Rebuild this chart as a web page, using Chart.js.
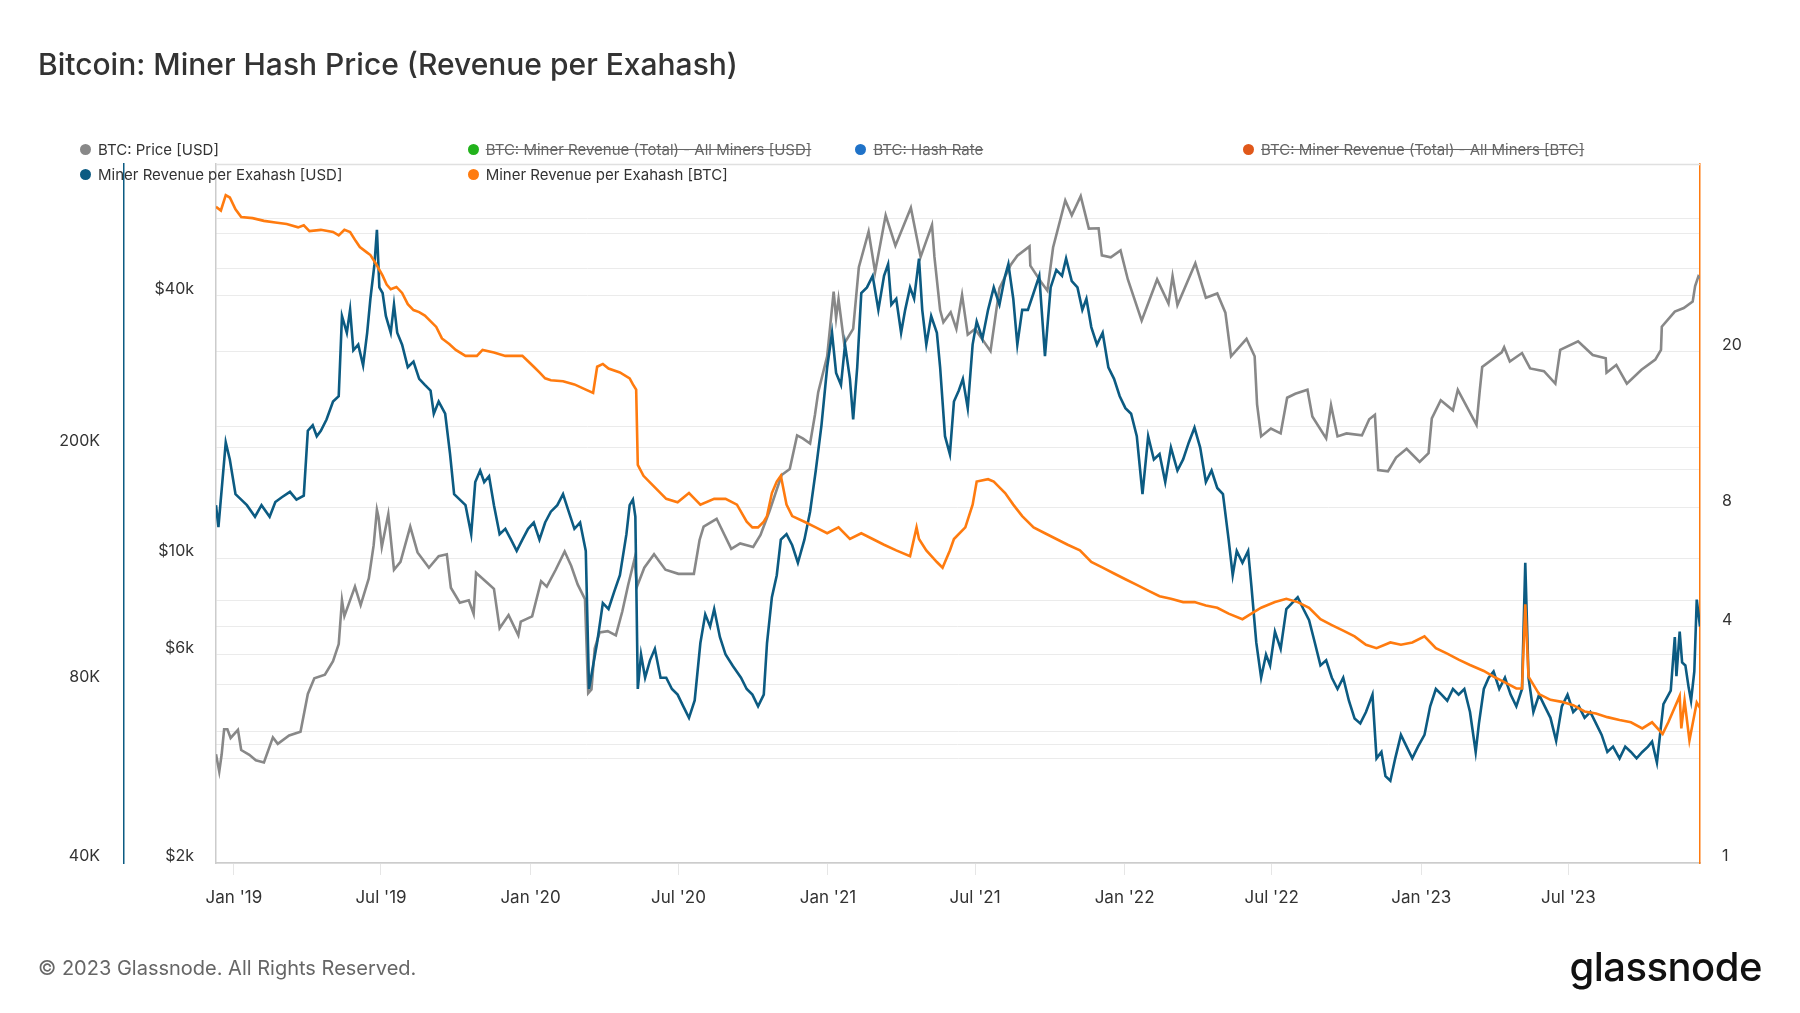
<!DOCTYPE html>
<html>
<head>
<meta charset="utf-8">
<script src="https://cdn.jsdelivr.net/npm/chart.js@4.4.1/dist/chart.umd.min.js"></script>
<style>
  body { margin: 0; background: #fff; font-family: Inter, "Noto Sans", sans-serif; }
  #wrap { position: relative; width: 1800px; height: 1013px; overflow: hidden; }
  #chart { position: absolute; left: 0; top: 0; }
  .title { position: absolute; left: 38px; top: 46px; line-height: 36px; font-size: 30px; font-weight: 500; color: #333; }
  .legend { position: absolute; left: 80px; top: 139px; display: grid; grid-template-columns: repeat(4, 387.7px); row-gap: 5px; font-size: 15px; color: #333; }
  .legend .item { display: flex; align-items: center; height: 20px; white-space: nowrap; }
  .legend .dot { width: 11px; height: 11px; border-radius: 50%; margin-right: 7px; flex: none; }
  .legend .off span { text-decoration: line-through; color: #666; }
  .footer { position: absolute; left: 38px; top: 954px; line-height: 28px; font-size: 20px; color: #666; }
  .logo { position: absolute; right: 38px; top: 942px; line-height: 50px; font-size: 40px; font-weight: 500; color: #111; letter-spacing: -0.5px; }
</style>
</head>
<body>
<div id="wrap">
  <canvas id="chart" width="1800" height="1013"></canvas>
  <div class="title">Bitcoin: Miner Hash Price (Revenue per Exahash)</div>
  <div class="legend" id="legend"></div>
  <div class="footer">© 2023 Glassnode. All Rights Reserved.</div>
  <div class="logo">glassnode</div>
</div>
<script>
// BTC: Price [USD]
const priceDates = ['2018-12-10','2018-12-14','2018-12-17','2018-12-20','2018-12-24','2018-12-28','2019-01-06','2019-01-10','2019-01-20','2019-01-28','2019-02-07','2019-02-18','2019-02-24','2019-03-10','2019-03-24','2019-04-02','2019-04-10','2019-04-23','2019-05-03','2019-05-10','2019-05-14','2019-05-17','2019-05-30','2019-06-06','2019-06-16','2019-06-22','2019-06-26','2019-06-28','2019-07-02','2019-07-10','2019-07-17','2019-07-25','2019-08-06','2019-08-15','2019-08-29','2019-09-10','2019-09-20','2019-09-25','2019-10-06','2019-10-17','2019-10-23','2019-10-26','2019-11-08','2019-11-17','2019-11-24','2019-12-05','2019-12-17','2019-12-20','2020-01-03','2020-01-14','2020-01-21','2020-02-01','2020-02-12','2020-02-20','2020-02-28','2020-03-08','2020-03-12','2020-03-16','2020-03-20','2020-03-26','2020-04-05','2020-04-15','2020-04-23','2020-04-30','2020-05-08','2020-05-11','2020-05-20','2020-06-01','2020-06-15','2020-07-01','2020-07-20','2020-07-27','2020-08-01','2020-08-17','2020-09-04','2020-09-15','2020-10-01','2020-10-10','2020-10-21','2020-11-05','2020-11-15','2020-11-24','2020-12-01','2020-12-10','2020-12-16','2020-12-20','2020-12-31','2021-01-08','2021-01-11','2021-01-14','2021-01-21','2021-02-01','2021-02-08','2021-02-20','2021-02-28','2021-03-13','2021-03-25','2021-04-13','2021-04-25','2021-05-09','2021-05-12','2021-05-19','2021-05-23','2021-06-01','2021-06-08','2021-06-15','2021-06-22','2021-07-01','2021-07-20','2021-07-31','2021-08-14','2021-08-22','2021-09-06','2021-09-07','2021-09-20','2021-09-28','2021-10-05','2021-10-20','2021-10-28','2021-11-08','2021-11-18','2021-11-30','2021-12-04','2021-12-15','2021-12-27','2022-01-05','2022-01-22','2022-02-10','2022-02-24','2022-03-01','2022-03-07','2022-03-29','2022-04-11','2022-04-25','2022-05-05','2022-05-12','2022-05-31','2022-06-10','2022-06-13','2022-06-18','2022-06-30','2022-07-12','2022-07-20','2022-07-30','2022-08-14','2022-08-20','2022-09-06','2022-09-12','2022-09-20','2022-10-01','2022-10-20','2022-10-29','2022-11-05','2022-11-09','2022-11-21','2022-12-01','2022-12-14','2022-12-30','2023-01-10','2023-01-14','2023-01-25','2023-02-09','2023-02-15','2023-03-10','2023-03-14','2023-03-17','2023-04-10','2023-04-13','2023-04-20','2023-05-05','2023-05-15','2023-06-01','2023-06-15','2023-06-21','2023-07-13','2023-07-31','2023-08-16','2023-08-17','2023-08-29','2023-09-11','2023-09-29','2023-10-16','2023-10-23','2023-10-24','2023-11-09','2023-11-20','2023-12-01','2023-12-04','2023-12-08','2023-12-10'];
const priceValues = [3550,3240,3550,4050,4050,3870,4040,3630,3540,3440,3400,3880,3750,3920,4000,4880,5300,5400,5800,6350,8000,7360,8600,7800,8980,10700,12900,12400,10600,12600,9400,9800,11800,10300,9500,10100,10200,8550,7900,8000,7450,9250,8800,8500,6900,7400,6650,7150,7350,8850,8600,9400,10350,9600,8700,8050,4900,5000,6200,6750,6800,6650,7550,8650,9950,8600,9500,10200,9400,9200,9200,11000,11800,12300,10500,10800,10600,11300,12800,15500,16000,19100,18800,18300,21300,24000,29000,40800,35500,39200,31000,33500,46400,56000,45200,61000,52000,63500,49000,58000,49000,37000,34700,36600,33500,40100,32500,33500,29800,41500,47000,49300,51800,46800,43000,41000,51500,66000,61000,67500,56900,57000,49400,48900,50700,43500,35000,43500,38300,44300,38000,47400,39500,40400,36500,29000,31800,29000,22500,19000,19800,19300,23300,23800,24300,21100,18800,22400,19000,19300,19100,20800,21300,15900,15800,17000,17800,16600,17400,20900,23000,21800,24300,20200,24200,27400,29600,30400,28200,29500,27200,26800,25100,30000,31400,29200,28700,26600,27700,25100,27000,28500,30000,33900,36700,37400,38700,42000,44200,43800];

// Miner Revenue per Exahash [USD]
const hashUsdDates = ['2018-12-10','2018-12-13','2018-12-22','2018-12-27','2019-01-03','2019-01-10','2019-01-17','2019-01-27','2019-02-04','2019-02-14','2019-02-21','2019-03-01','2019-03-11','2019-03-19','2019-03-28','2019-04-02','2019-04-08','2019-04-13','2019-04-18','2019-04-25','2019-05-03','2019-05-10','2019-05-14','2019-05-20','2019-05-24','2019-05-28','2019-06-03','2019-06-09','2019-06-14','2019-06-18','2019-06-23','2019-06-26','2019-06-29','2019-07-03','2019-07-07','2019-07-13','2019-07-17','2019-07-21','2019-07-27','2019-08-03','2019-08-10','2019-08-17','2019-08-24','2019-08-31','2019-09-04','2019-09-10','2019-09-18','2019-09-24','2019-09-29','2019-10-06','2019-10-13','2019-10-20','2019-10-25','2019-10-31','2019-11-05','2019-11-11','2019-11-17','2019-11-24','2019-12-01','2019-12-08','2019-12-15','2019-12-22','2019-12-29','2020-01-05','2020-01-12','2020-01-19','2020-01-26','2020-02-03','2020-02-10','2020-02-17','2020-02-24','2020-03-02','2020-03-09','2020-03-13','2020-03-18','2020-03-23','2020-03-30','2020-04-06','2020-04-13','2020-04-20','2020-04-28','2020-05-02','2020-05-06','2020-05-09','2020-05-12','2020-05-16','2020-05-21','2020-05-27','2020-06-02','2020-06-09','2020-06-16','2020-06-23','2020-06-30','2020-07-07','2020-07-14','2020-07-21','2020-07-28','2020-08-03','2020-08-09','2020-08-14','2020-08-21','2020-08-28','2020-09-06','2020-09-16','2020-09-23','2020-09-30','2020-10-07','2020-10-14','2020-10-18','2020-10-24','2020-10-30','2020-11-04','2020-11-11','2020-11-18','2020-11-25','2020-12-03','2020-12-10','2020-12-17','2020-12-24','2020-12-31','2021-01-06','2021-01-11','2021-01-17','2021-01-22','2021-01-28','2021-02-01','2021-02-06','2021-02-11','2021-02-18','2021-02-25','2021-03-04','2021-03-11','2021-03-16','2021-03-20','2021-03-26','2021-04-01','2021-04-06','2021-04-12','2021-04-17','2021-04-23','2021-04-27','2021-05-02','2021-05-08','2021-05-15','2021-05-19','2021-05-25','2021-05-31','2021-06-05','2021-06-11','2021-06-16','2021-06-22','2021-06-28','2021-07-03','2021-07-10','2021-07-17','2021-07-24','2021-07-31','2021-08-07','2021-08-11','2021-08-17','2021-08-22','2021-08-28','2021-09-04','2021-09-11','2021-09-18','2021-09-25','2021-10-02','2021-10-09','2021-10-16','2021-10-21','2021-10-28','2021-11-04','2021-11-10','2021-11-15','2021-11-21','2021-11-28','2021-12-05','2021-12-12','2021-12-19','2021-12-26','2022-01-02','2022-01-09','2022-01-16','2022-01-23','2022-01-30','2022-02-06','2022-02-13','2022-02-20','2022-02-27','2022-03-07','2022-03-14','2022-03-21','2022-03-28','2022-04-04','2022-04-11','2022-04-18','2022-04-25','2022-05-02','2022-05-09','2022-05-14','2022-05-19','2022-05-26','2022-06-02','2022-06-06','2022-06-12','2022-06-18','2022-06-24','2022-06-29','2022-07-05','2022-07-12','2022-07-19','2022-07-26','2022-08-02','2022-08-09','2022-08-16','2022-08-23','2022-08-30','2022-09-06','2022-09-13','2022-09-20','2022-09-27','2022-10-04','2022-10-11','2022-10-18','2022-10-25','2022-11-02','2022-11-07','2022-11-13','2022-11-18','2022-11-24','2022-11-30','2022-12-07','2022-12-14','2022-12-21','2022-12-28','2023-01-05','2023-01-12','2023-01-19','2023-01-26','2023-02-02','2023-02-09','2023-02-16','2023-02-23','2023-03-02','2023-03-09','2023-03-13','2023-03-19','2023-03-25','2023-03-31','2023-04-07','2023-04-14','2023-04-21','2023-04-28','2023-05-05','2023-05-09','2023-05-13','2023-05-19','2023-05-26','2023-06-02','2023-06-09','2023-06-16','2023-06-23','2023-06-30','2023-07-07','2023-07-14','2023-07-21','2023-07-28','2023-08-04','2023-08-11','2023-08-18','2023-08-25','2023-09-02','2023-09-09','2023-09-16','2023-09-23','2023-09-30','2023-10-07','2023-10-12','2023-10-18','2023-10-26','2023-11-04','2023-11-09','2023-11-11','2023-11-15','2023-11-18','2023-11-22','2023-11-26','2023-11-29','2023-12-03','2023-12-06','2023-12-10'];
const hashUsdValues = [160000,147000,204000,191000,167000,163500,160000,153000,160000,153000,162000,165000,168500,163500,166000,213500,218000,209000,213500,223000,239000,244000,333000,312000,341000,291500,298000,275000,312000,356000,407000,465000,372000,364000,333000,312000,348000,312000,298000,273000,279000,261000,255000,249500,228000,239000,228000,195000,167000,163500,160000,143000,175000,183000,175000,179000,160000,143000,146000,140000,134000,140000,146000,149600,140000,149600,156000,160000,167000,156000,146000,149600,134000,78500,86000,94000,109500,107000,114500,122000,143000,160000,163500,153000,78500,89700,82000,87700,91700,82000,82000,78500,76800,73400,70200,75100,93800,104800,100000,107000,96000,89700,85800,82000,78500,76800,73400,76800,93800,112000,122000,140000,143000,137000,128000,140000,156000,183000,218000,273000,312000,267000,255000,298000,261000,223000,273000,364000,372000,389000,341000,389000,407000,348000,356000,312000,341000,372000,356000,416000,341000,298000,333000,312000,273000,209000,195000,239000,249500,261000,233000,298000,326000,305000,341000,372000,348000,389000,407000,356000,298000,341000,341000,364000,389000,285000,372000,398000,389000,416000,381000,372000,341000,356000,319000,298000,312000,273000,261000,244000,233000,228000,209000,167000,209000,191000,195000,175000,200000,183000,191000,204000,216000,200000,175000,183000,171000,167000,140000,122000,134000,128000,134000,117000,94000,82000,89700,86000,98000,91700,107000,109500,112000,107000,102500,94000,86000,87700,82000,78500,82000,75000,70000,68700,71800,76800,60000,61500,56000,55000,60000,65700,62800,60000,62800,65700,73400,78500,76800,75000,78500,76800,78500,71800,61500,68700,78500,82000,84000,78500,82000,76800,73400,78500,128000,82000,71800,76800,73400,70200,64200,73400,76800,71800,73400,70200,71800,68700,65700,61500,62800,60000,62800,61500,60000,61500,62800,64000,59000,74000,78000,96000,82500,98000,87000,86000,79000,75000,84000,111000,100000];

// Miner Revenue per Exahash [BTC]
const hashBtcDates = ['2018-12-10','2018-12-16','2018-12-22','2018-12-27','2019-01-03','2019-01-10','2019-01-24','2019-02-07','2019-02-21','2019-03-07','2019-03-21','2019-03-28','2019-04-04','2019-04-18','2019-05-03','2019-05-10','2019-05-17','2019-05-24','2019-05-31','2019-06-05','2019-06-14','2019-06-18','2019-06-25','2019-07-03','2019-07-08','2019-07-13','2019-07-20','2019-07-27','2019-08-03','2019-08-10','2019-08-17','2019-08-24','2019-09-07','2019-09-14','2019-09-23','2019-10-01','2019-10-13','2019-10-27','2019-11-03','2019-11-17','2019-12-01','2019-12-22','2019-12-29','2020-01-05','2020-01-12','2020-01-19','2020-01-26','2020-02-10','2020-02-24','2020-03-09','2020-03-18','2020-03-23','2020-03-30','2020-04-06','2020-04-20','2020-05-02','2020-05-06','2020-05-10','2020-05-12','2020-05-19','2020-05-26','2020-06-02','2020-06-09','2020-06-16','2020-06-30','2020-07-14','2020-07-21','2020-07-28','2020-08-14','2020-08-28','2020-09-11','2020-09-23','2020-09-30','2020-10-07','2020-10-14','2020-10-18','2020-10-24','2020-10-30','2020-11-04','2020-11-11','2020-11-18','2020-12-03','2020-12-17','2020-12-31','2021-01-14','2021-01-28','2021-02-11','2021-02-25','2021-03-11','2021-03-26','2021-04-12','2021-04-20','2021-04-23','2021-05-02','2021-05-15','2021-05-22','2021-05-31','2021-06-05','2021-06-19','2021-06-28','2021-07-03','2021-07-17','2021-07-24','2021-07-31','2021-08-07','2021-08-17','2021-08-28','2021-09-11','2021-09-25','2021-10-09','2021-10-23','2021-11-07','2021-11-21','2021-12-05','2021-12-19','2022-01-02','2022-01-16','2022-01-30','2022-02-13','2022-02-27','2022-03-14','2022-03-28','2022-04-11','2022-04-25','2022-05-09','2022-05-26','2022-06-06','2022-06-18','2022-07-05','2022-07-19','2022-08-02','2022-08-16','2022-08-30','2022-09-13','2022-09-27','2022-10-11','2022-10-25','2022-11-07','2022-11-24','2022-12-07','2022-12-21','2023-01-05','2023-01-19','2023-02-02','2023-02-16','2023-03-02','2023-03-19','2023-03-31','2023-04-14','2023-04-28','2023-05-05','2023-05-09','2023-05-13','2023-05-26','2023-06-09','2023-06-23','2023-07-07','2023-07-21','2023-08-04','2023-08-18','2023-09-02','2023-09-16','2023-09-30','2023-10-12','2023-10-25','2023-11-01','2023-11-15','2023-11-17','2023-11-21','2023-11-27','2023-12-06','2023-12-10'];
const hashBtcValues = [46.7,45.7,50.0,49.3,46.0,44.0,43.7,43.0,42.6,42.2,41.4,41.9,40.5,40.8,40.3,39.5,40.8,40.3,38.2,36.9,35.7,35.2,33.4,31.2,29.6,28.8,29.2,28.2,26.4,25.5,25.2,24.7,23.1,21.6,20.9,20.2,19.5,19.5,20.2,19.9,19.5,19.5,18.9,18.3,17.7,17.1,16.9,16.8,16.5,16.0,15.7,18.3,18.6,18.1,17.7,17.1,16.5,16.0,10.3,9.66,9.34,9.03,8.73,8.44,8.27,8.73,8.44,8.16,8.44,8.44,8.16,7.38,7.14,7.14,7.38,7.63,8.73,9.34,9.66,8.16,7.63,7.38,7.14,6.90,7.14,6.67,6.90,6.67,6.45,6.24,6.03,7.14,6.67,6.24,5.83,5.64,6.24,6.67,7.14,8.16,9.34,9.47,9.34,9.03,8.73,8.16,7.63,7.14,6.90,6.67,6.45,6.24,5.83,5.64,5.45,5.27,5.10,4.93,4.77,4.70,4.61,4.61,4.52,4.46,4.31,4.17,4.31,4.46,4.61,4.70,4.61,4.46,4.17,4.03,3.90,3.77,3.59,3.52,3.64,3.59,3.64,3.77,3.52,3.41,3.29,3.19,3.08,2.98,2.88,2.78,2.78,4.55,2.98,2.69,2.60,2.57,2.52,2.43,2.40,2.35,2.31,2.28,2.20,2.28,2.13,2.28,2.66,2.20,2.59,2.05,2.56,2.48];

// axis ticks (gridlines) and their labels ('' = gridline only)
const priceTicks = [2000, 4000, 6000, 8000, 10000, 20000, 40000, 60000];
const priceTickLabels = ['$2k', '', '$6k', '', '$10k', '', '$40k', ''];
const hashUsdTicks = [40000, 60000, 80000, 200000, 400000];
const hashUsdTickLabels = ['40K', '', '80K', '200K', ''];
const hashBtcTicks = [1, 2, 4, 8, 10, 20, 40];
const hashBtcTickLabels = ['1', '', '4', '8', '', '20', ''];
const xTickDates = ['2019-01-01','2019-07-01','2020-01-01','2020-07-01','2021-01-01','2021-07-01','2022-01-01','2022-07-01','2023-01-01','2023-07-01'];
const xTickLabels = ["Jan '19","Jul '19","Jan '20","Jul '20","Jan '21","Jul '21","Jan '22","Jul '22","Jan '23","Jul '23"];

const toPoints = (dates, values) => dates.map((d, i) => ({ x: Date.parse(d), y: values[i] }));

Chart.defaults.font.family = 'Inter, "Noto Sans", sans-serif';
Chart.defaults.color = '#444';

const datasets = [
  { label: 'BTC: Price [USD]', data: toPoints(priceDates, priceValues), borderColor: '#888888', backgroundColor: '#888888', yAxisID: 'yPrice', order: 3 },
  { label: 'BTC: Miner Revenue (Total) - All Miners [USD]', data: [], borderColor: '#22b21c', backgroundColor: '#22b21c', yAxisID: 'yPrice', hidden: true },
  { label: 'BTC: Hash Rate', data: [], borderColor: '#1f72c8', backgroundColor: '#1f72c8', yAxisID: 'yPrice', hidden: true },
  { label: 'BTC: Miner Revenue (Total) - All Miners [BTC]', data: [], borderColor: '#e0581a', backgroundColor: '#e0581a', yAxisID: 'yPrice', hidden: true },
  { label: 'Miner Revenue per Exahash [USD]', data: toPoints(hashUsdDates, hashUsdValues), borderColor: '#0c5b82', backgroundColor: '#0c5b82', yAxisID: 'yHash', order: 2 },
  { label: 'Miner Revenue per Exahash [BTC]', data: toPoints(hashBtcDates, hashBtcValues), borderColor: '#ff7b0f', backgroundColor: '#ff7b0f', yAxisID: 'yBtc', order: 1 }
];

// light top edge of the plot frame
const frameTop = {
  id: 'frameTop',
  beforeDatasetsDraw(chart) {
    const { ctx, chartArea: a } = chart;
    ctx.save();
    ctx.strokeStyle = '#e0e0e0';
    ctx.lineWidth = 1.5;
    ctx.beginPath();
    ctx.moveTo(a.left, a.top + 0.5);
    ctx.lineTo(a.right, a.top + 0.5);
    ctx.stroke();
    ctx.restore();
  }
};

const yTickFont = { size: 16 };

const chart = new Chart(document.getElementById('chart').getContext('2d'), {
  type: 'line',
  data: { datasets },
  options: {
    responsive: false,
    animation: false,
    devicePixelRatio: 1,
    layout: { padding: { top: 164, left: 0, right: 0, bottom: 0 } },
    plugins: { legend: { display: false }, tooltip: { enabled: false } },
    elements: { point: { radius: 0 }, line: { borderWidth: 2.6, tension: 0 } },
    scales: {
      x: {
        type: 'linear',
        min: Date.parse('2018-12-10'),
        max: Date.parse('2023-12-10'),
        afterBuildTicks: s => { s.ticks = xTickDates.map(d => ({ value: Date.parse(d) })); },
        afterFit: s => { s.height = 150; },
        ticks: { autoSkip: false, maxRotation: 0, padding: 13, font: { size: 17 }, color: '#333',
          callback: (v, i) => xTickLabels[i] },
        grid: { drawOnChartArea: false, drawTicks: true, tickLength: 12, tickColor: '#e6e6e6', color: '#e6e6e6' },
        border: { color: '#cccccc', width: 1.5 }
      },
      yPrice: {
        type: 'logarithmic', position: 'left', weight: 0,
        min: 2000, max: 80000,
        afterBuildTicks: s => { s.ticks = priceTicks.map(v => ({ value: v })); },
        afterFit: s => { s.width = 92; },
        ticks: { autoSkip: false, padding: 22, labelOffset: -6.5, font: yTickFont, color: '#333',
          callback: (v, i) => priceTickLabels[i] },
        grid: { drawTicks: false, color: '#ebebeb' },
        border: { color: '#cccccc', width: 1.5 }
      },
      yHash: {
        type: 'logarithmic', position: 'left', weight: 1,
        min: 40000, max: 600000,
        afterBuildTicks: s => { s.ticks = hashUsdTicks.map(v => ({ value: v })); },
        afterFit: s => { s.width = 124; },
        ticks: { autoSkip: false, padding: 24, labelOffset: -6.5, font: yTickFont, color: '#333',
          callback: (v, i) => hashUsdTickLabels[i] },
        grid: { drawTicks: false, color: '#ebebeb' },
        border: { color: '#0c5b82', width: 1.5 }
      },
      yBtc: {
        type: 'logarithmic', position: 'right',
        min: 1, max: 60,
        afterBuildTicks: s => { s.ticks = hashBtcTicks.map(v => ({ value: v })); },
        afterFit: s => { s.width = 100; },
        ticks: { autoSkip: false, padding: 22, labelOffset: -6.5, font: yTickFont, color: '#333',
          callback: (v, i) => hashBtcTickLabels[i] },
        grid: { drawTicks: false, color: '#ebebeb' },
        border: { color: '#ff7b0f', width: 1.5 }
      }
    }
  },
  plugins: [frameTop]
});

// legend laid out in four fixed columns, hidden series struck through
const legendEl = document.getElementById('legend');
chart.data.datasets.forEach(ds => {
  const item = document.createElement('div');
  item.className = 'item' + (ds.hidden ? ' off' : '');
  item.innerHTML = `<div class="dot" style="background:${ds.borderColor}"></div><span>${ds.label}</span>`;
  legendEl.appendChild(item);
});
</script>
</body>
</html>
